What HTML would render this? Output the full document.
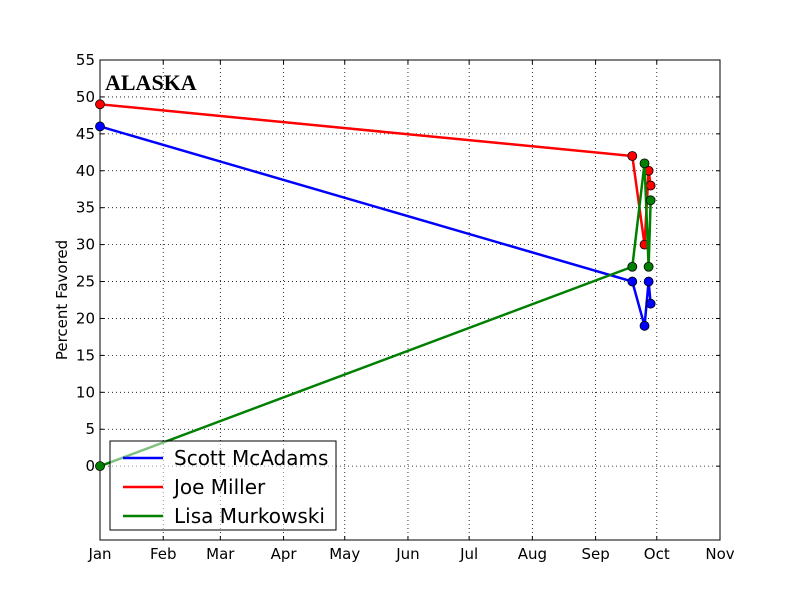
<!DOCTYPE html>
<html><head><meta charset="utf-8"><style>body{margin:0;background:#fff}svg{display:block}</style></head>
<body>
<svg id="chart" width="800" height="600" xmlns="http://www.w3.org/2000/svg" font-family="DejaVu Sans, Liberation Sans, sans-serif"></svg>
<script>
const days = [0, 261, 267, 269, 270];
const mcadams = [46, 25, 19, 25, 22];
const miller = [49, 42, 30, 40, 38];
const murkowski = [0, 27, 41, 27, 36];
const seriesNames = ["Scott McAdams", "Joe Miller", "Lisa Murkowski"];
const seriesColors = ["#0000ff", "#ff0000", "#008000"];
const monthLabels = ["Jan","Feb","Mar","Apr","May","Jun","Jul","Aug","Sep","Oct","Nov"];
const monthDays = [0,31,59,90,120,151,181,212,243,273,304];
const yTicks = [0,5,10,15,20,25,30,35,40,45,50,55];

const L=100,R=720,T=60,B=540;
const xs=d=>L+(d-0)/(304)*(R-L);
const ys=v=>B-(v+10)/65*(B-T);
const svg=document.getElementById('chart');
const NS='http://www.w3.org/2000/svg';
function mk(tag,attrs,parent){const e=document.createElementNS(NS,tag);for(const k in attrs)e.setAttribute(k,attrs[k]);(parent||svg).appendChild(e);return e;}

const grid=mk('g',{});


monthDays.forEach((d,i)=>{
  const x=xs(d);
  mk('line',{x1:x,x2:x,y1:T,y2:B,stroke:'#000','stroke-dasharray':'1,3','stroke-width':0.8},grid);
  mk('line',{x1:x,x2:x,y1:B,y2:B-4,stroke:'#000'},grid);
  mk('line',{x1:x,x2:x,y1:T,y2:T+4,stroke:'#000'},grid);
  const t=mk('text',{x:x,y:B+19,'text-anchor':'middle','font-size':15});
  t.textContent=monthLabels[i];
  
  
});
yTicks.forEach(v=>{
  const y=ys(v);
  mk('line',{x1:L,x2:R,y1:y,y2:y,stroke:'#000','stroke-dasharray':'1,3','stroke-width':0.8},grid);
  mk('line',{x1:L,x2:L+4,y1:y,y2:y,stroke:'#000'},grid);
  mk('line',{x1:R,x2:R-4,y1:y,y2:y,stroke:'#000'},grid);
  const t=mk('text',{x:L-5,y:y+5,'text-anchor':'end','font-size':15});
  t.textContent=v;
  
  
});
const frame=mk('rect',{x:L,y:T,width:R-L,height:B-T,fill:'none',stroke:'#000'});



const yt=mk('text',{x:0,y:0,'font-size':15,'text-anchor':'middle',transform:`translate(67,300) rotate(-90)`});
yt.textContent='Percent Favored';



const title=mk('text',{x:105,y:90,'font-size':22,'font-weight':'bold','font-family':'Liberation Serif, serif'});
title.textContent='ALASKA';



[mcadams,miller,murkowski].forEach((vals,si)=>{
  const g=mk('g',{});
  
  
  mk('polyline',{points:vals.map((v,i)=>xs(days[i])+','+ys(v)).join(' '),fill:'none',stroke:seriesColors[si],'stroke-width':2.5},g);
  vals.forEach((v,i)=>{
    const c=mk('circle',{cx:xs(days[i]),cy:ys(v),r:4.5,fill:seriesColors[si],stroke:'#000','stroke-width':0.8},g);
    
    
  });
});

const lg=mk('g',{});


mk('rect',{x:110,y:441,width:226,height:89,fill:'#fff','fill-opacity':0.5,stroke:'#000'},lg);
seriesNames.forEach((n,i)=>{
  const y=458+i*29;
  mk('line',{x1:123,x2:163,y1:y,y2:y,stroke:seriesColors[i],'stroke-width':2.5},lg);
  const t=mk('text',{x:174,y:y+7,'font-size':20},lg);
  t.textContent=n;
  
  
});
</script>
</body></html>
